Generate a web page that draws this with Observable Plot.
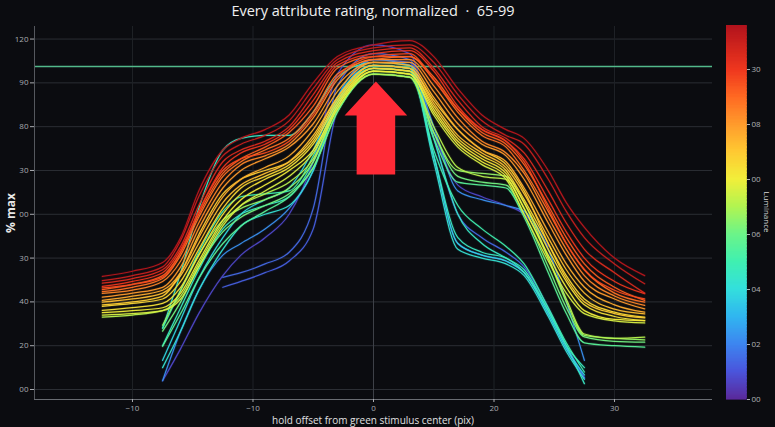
<!DOCTYPE html>
<html><head><meta charset="utf-8">
<script src="https://cdn.jsdelivr.net/npm/d3@7"></script>
<script src="https://cdn.jsdelivr.net/npm/@observablehq/plot@0.6"></script>
<style>
html,body{margin:0;padding:0;background:#0b0c10;}
#wrap{position:relative;width:775px;height:427px;overflow:hidden;font-family:"Open Sans",sans-serif;}
#wrap svg{position:absolute;top:0;}
.t{position:absolute;white-space:nowrap;color:#e8e8e8;}
</style></head><body><div id="wrap"></div>
<script>
// ---- data ----
const xs = [-22.5,-20,-17.5,-16,-14.5,-12.5,-11,-9,-7,-5,-3,0,3,5,7,9,11,12.5,14.5,16,17.5,20,22.5];
const lum = [1.34,1.30,1.25,1.20,1.16,1.12,1.08,1.04,1.00, 0.96,0.92,0.89,0.86,0.83,0.80,0.76, 0.71,0.66,0.61,0.56, 0.50,0.46,0.42,0.38,0.45, 0.22,0.14,0.12,0.07];
const seriesY = [
 [38.7,40.5,43.5,52,68,82,86,89,94,105,114,118,119.5,114,103,94,89,86,75,64,55.5,45,39],
 [37.3,39,42,51,66,80,84,87,92,103,113,117,118,112,101,92,87,84,72,61,52,43,36.2],
 [36.4,38,41,49,63,78,82,85,90,101,112,116,117,110,99,90,86,81,68,57,48,40,33],
 [35.3,37,40,48,61,76,81,84,89,99,111,115,116,109,97,89,85,79,65,54,45,37,32.8],
 [34.8,36,38.5,47,61,75,79,81,85,94,107,114,115,106,96,89,85,78,62,50,41,34,31],
 [34.2,36,39,47,60,74,79,83,88,97,110,114,114,107,96,88,84,77,63,52,43,35,30.5],
 [33.5,35,38,46,59,73,78,82,86,95,108,113,114,106,95,87,83,75,61,50,41,33,29.9],
 [32.9,34,37,44,57,71,77,80,84,93,106,113,113,104,93,85,81,74,59,48,39,32,28.8],
 [31.6,33,35,42,55,69,75,79,83,91,104,112,112,102,91,84,80,72,57,46,37,31,27.6],
 [30.5,32,34,40,52,66,72,76,80,89,102,112,111,100,89,82,78,69,54,43,35,29,26.5],
 [29.9,31,33,39,50,64,70,74,78,87,100,111,110,98,87,81,76,67,52,41,33,27.5,25.9],
 [29,30,32,40,53,67,72,75,78,86,100,111,110,99,89,82,77,68,50,38,30,26,24.5],
 [28.5,29.5,31,37,48,62,69,73,77,85,99,110,109,97,86,80,75,65,50,39,31,26.5,24.8],
 [27.1,28,29.5,35,46,60,67,72,76,84,98,110,109,96,85,79,74,64,48,37,29,25,23.6],
 [26.3,27,28,33,44,58,65,70,75,82,97,109,108,95,84,78,73,62,46,35,27,24,23.6],
 [25.5,26,27,31,42,56,63,68,73,81,96,109,108,94,83,77,72,60,44,33,26,23.5,22.8],
 [24.8,25.5,27,32,43,57,63,67,71,79,96,108,107,90,76,73,72,62,45,31,19,17.5,17.9],
 [null,null,22,34,46,58,62,65,69,78,97,109,108,88,75,74,73,64,45,30,18.5,17.5,17],
 [null,null,20,30,42,54,59,63,67,76,95,108,107,88,73,71,70,60,42,28,18,16.5,16.2],
 [null,null,14.8,26,38,50,56,61,66,76,95,108,107,86,71,70,69,59,40,26,16,15,14.5],
 [null,null,21,34,47,61,66,67,68,80,99,110,109,82,63,55,49,43,28,16,6,null,null],
 [null,null,15,28,41,55,60,63,66,78,98,110,109,80,52,47,45,40,27,15,7.5,null,null],
 [null,null,7.5,20,34,48,56,60,63,75,98,111,110,78,48,45,43,39,25,13,3.5,null,null],
 [null,null,10,24,38,52,60,65,69,82,100,111,110,80,50,46,44,40,26,14,5,null,null],
 [null,null,21,40,62,82,86,87,87,95,107,112,111,86,60,50,45,41,27,15,2,null,null],
 [null,null,3,20,34,46,50,55,62,75,100,113,111,90,68,65,63,61,48,30,10,null,null],
 [null,null,null,null,null,38.4,40,43,47,62,104,115,113,86,60,52,47,42,28,15,4,null,null],
 [null,null,null,null,null,35,37,40,44,55,96,113,112,80,50,46,44,40,26,14,4,null,null],
 [null,null,3,14,26,39,46,52,60,78,108,118,115,88,70,66,63,60,49,null,null,null,null]
];
const xDomain = [-28.13, 28.13];
const yDomain = [-3.42, 124.3];
const xTicks = [-20,-10,0,10,20];
const xTickLabels = ["\u221210","\u221210","0","20","30"];
const yTicks = [0,15,30,45,60,75,90,105,120];
const yTickLabels = ["00","20","40","30","00","30","80","90","120"];
const refY = [110.6];
const refX = [0];
const cbDomain = [0, 1.36];
const cbTicks = [0,0.2,0.4,0.6,0.8,1.0,1.2];
const cbTickLabels = ["00","02","04","06","00","08","30"];
const colorStops = [0,0.1,0.2,0.3,0.4,0.5,0.6,0.7,0.8,0.9,1.0,1.1,1.2,1.36];
const colorHex = ["#5a2a9c","#4a55dc","#3d86f0","#30b6f0","#33dfdc","#40f0b0","#6cf488","#b2f450","#f2ee3a","#ffc832","#ff9a2c","#ff6822","#ee361e","#b0121c"];
const arrowX = [0.2, 2.8, 1.8, 1.8, -1.4, -1.4, -2.4];
const arrowY = [105.5, 93.8, 93.8, 73.6, 73.6, 93.8, 93.8];

// ---- build rows ----
const rows = [];
for (let i = seriesY.length - 1; i >= 0; i--) {
  seriesY[i].forEach((y, j) => { if (y != null) rows.push({id: i, x: xs[j], y, v: lum[i]}); });
}
const arrowPts = arrowX.map((x, i) => ({x, y: arrowY[i]}));
const colorScale = {type: "linear", domain: colorStops, range: colorHex, interpolate: "rgb"};

const main = Plot.plot({
  width: 775, height: 427,
  marginLeft: 34, marginRight: 63, marginTop: 26, marginBottom: 28,
  x: {domain: xDomain},
  y: {domain: yDomain},
  color: colorScale,
  style: {background: "transparent", color: "#a9abb0", fontFamily: "Open Sans, sans-serif", fontSize: "8px"},
  marks: [
    Plot.gridY(yTicks, {stroke: "#2b2e34", strokeOpacity: 1}),
    Plot.gridX(xTicks, {stroke: "#1f2227", strokeOpacity: 1}),
    Plot.ruleX(refX, {stroke: "#3e4148"}),
    Plot.ruleY(refY, {stroke: "#52b98a", strokeWidth: 1.3}),
    Plot.line(rows, {x: "x", y: "y", z: "id", stroke: "v", curve: "monotone-x", strokeWidth: 3, strokeOpacity: 0.1}),
    Plot.line(rows, {x: "x", y: "y", z: "id", stroke: "v", curve: "monotone-x", strokeWidth: 1.25, strokeOpacity: 0.95}),
    Plot.line(arrowPts, {x: "x", y: "y", fill: "#ff2a36", stroke: "none", curve: "linear-closed"}),
    Plot.ruleX([xDomain[0]], {stroke: "#55585e"}),
    Plot.ruleY([yDomain[0]], {stroke: "#6a6d73"}),
    Plot.axisX(xTicks, {tickFormat: d => xTickLabels[xTicks.indexOf(d)], tickSize: 3, tickPadding: 3, label: null, fontSize: 8}),
    Plot.axisY(yTicks, {tickFormat: d => yTickLabels[yTicks.indexOf(d)], tickSize: 4, tickPadding: 2, label: null, fontSize: 8})
  ]
});
main.style.left = "0px";

const cbSteps = d3.range(cbDomain[0], cbDomain[1], 0.005);
const cbar = Plot.plot({
  width: 56, height: 427,
  marginLeft: 6, marginRight: 30, marginTop: 25, marginBottom: 28,
  x: {domain: [0, 1], axis: null},
  y: {domain: cbDomain, axis: null},
  color: colorScale,
  style: {background: "transparent", color: "#b0b2b6", fontFamily: "Open Sans, sans-serif", fontSize: "8px"},
  marks: [
    Plot.rect(cbSteps, {x1: d => 0, x2: d => 1, y1: d => d, y2: d => Math.min(d + 0.008, cbDomain[1]), fill: d => d, stroke: d => d, strokeWidth: 0.6, shapeRendering: "crispEdges"}),
    Plot.axisY(cbTicks, {anchor: "right", tickFormat: d => cbTickLabels[cbTicks.indexOf(d)], tickSize: 3, tickPadding: 2, label: null, fontSize: 8})
  ]
});
cbar.style.left = "720px";

const wrap = document.getElementById("wrap");
wrap.appendChild(main);
wrap.appendChild(cbar);

function addText(txt, css) {
  const d = document.createElement("div");
  d.className = "t"; d.textContent = txt;
  Object.assign(d.style, css);
  wrap.appendChild(d);
}
addText("Every attribute rating, normalized  \u00b7  65-99", {left: "0px", width: "746px", top: "1px", textAlign: "center", fontSize: "14.5px", lineHeight: "20px", fontWeight: "500", color: "#f0f0f0", whiteSpace: "pre"});
addText("% max", {left: "10px", top: "213px", transform: "translate(-50%,-50%) rotate(-90deg)", fontSize: "12px", fontWeight: "700", color: "#e6e6e6"});
addText("hold offset from green stimulus center (pix)", {left: "373px", top: "420px", transform: "translate(-50%,-50%)", fontSize: "10px", color: "#e0e0e0"});
addText("Luminance", {left: "767px", top: "212px", transform: "translate(-50%,-50%) rotate(90deg)", fontSize: "8px", color: "#d8d8d8"});
</script></body></html>
